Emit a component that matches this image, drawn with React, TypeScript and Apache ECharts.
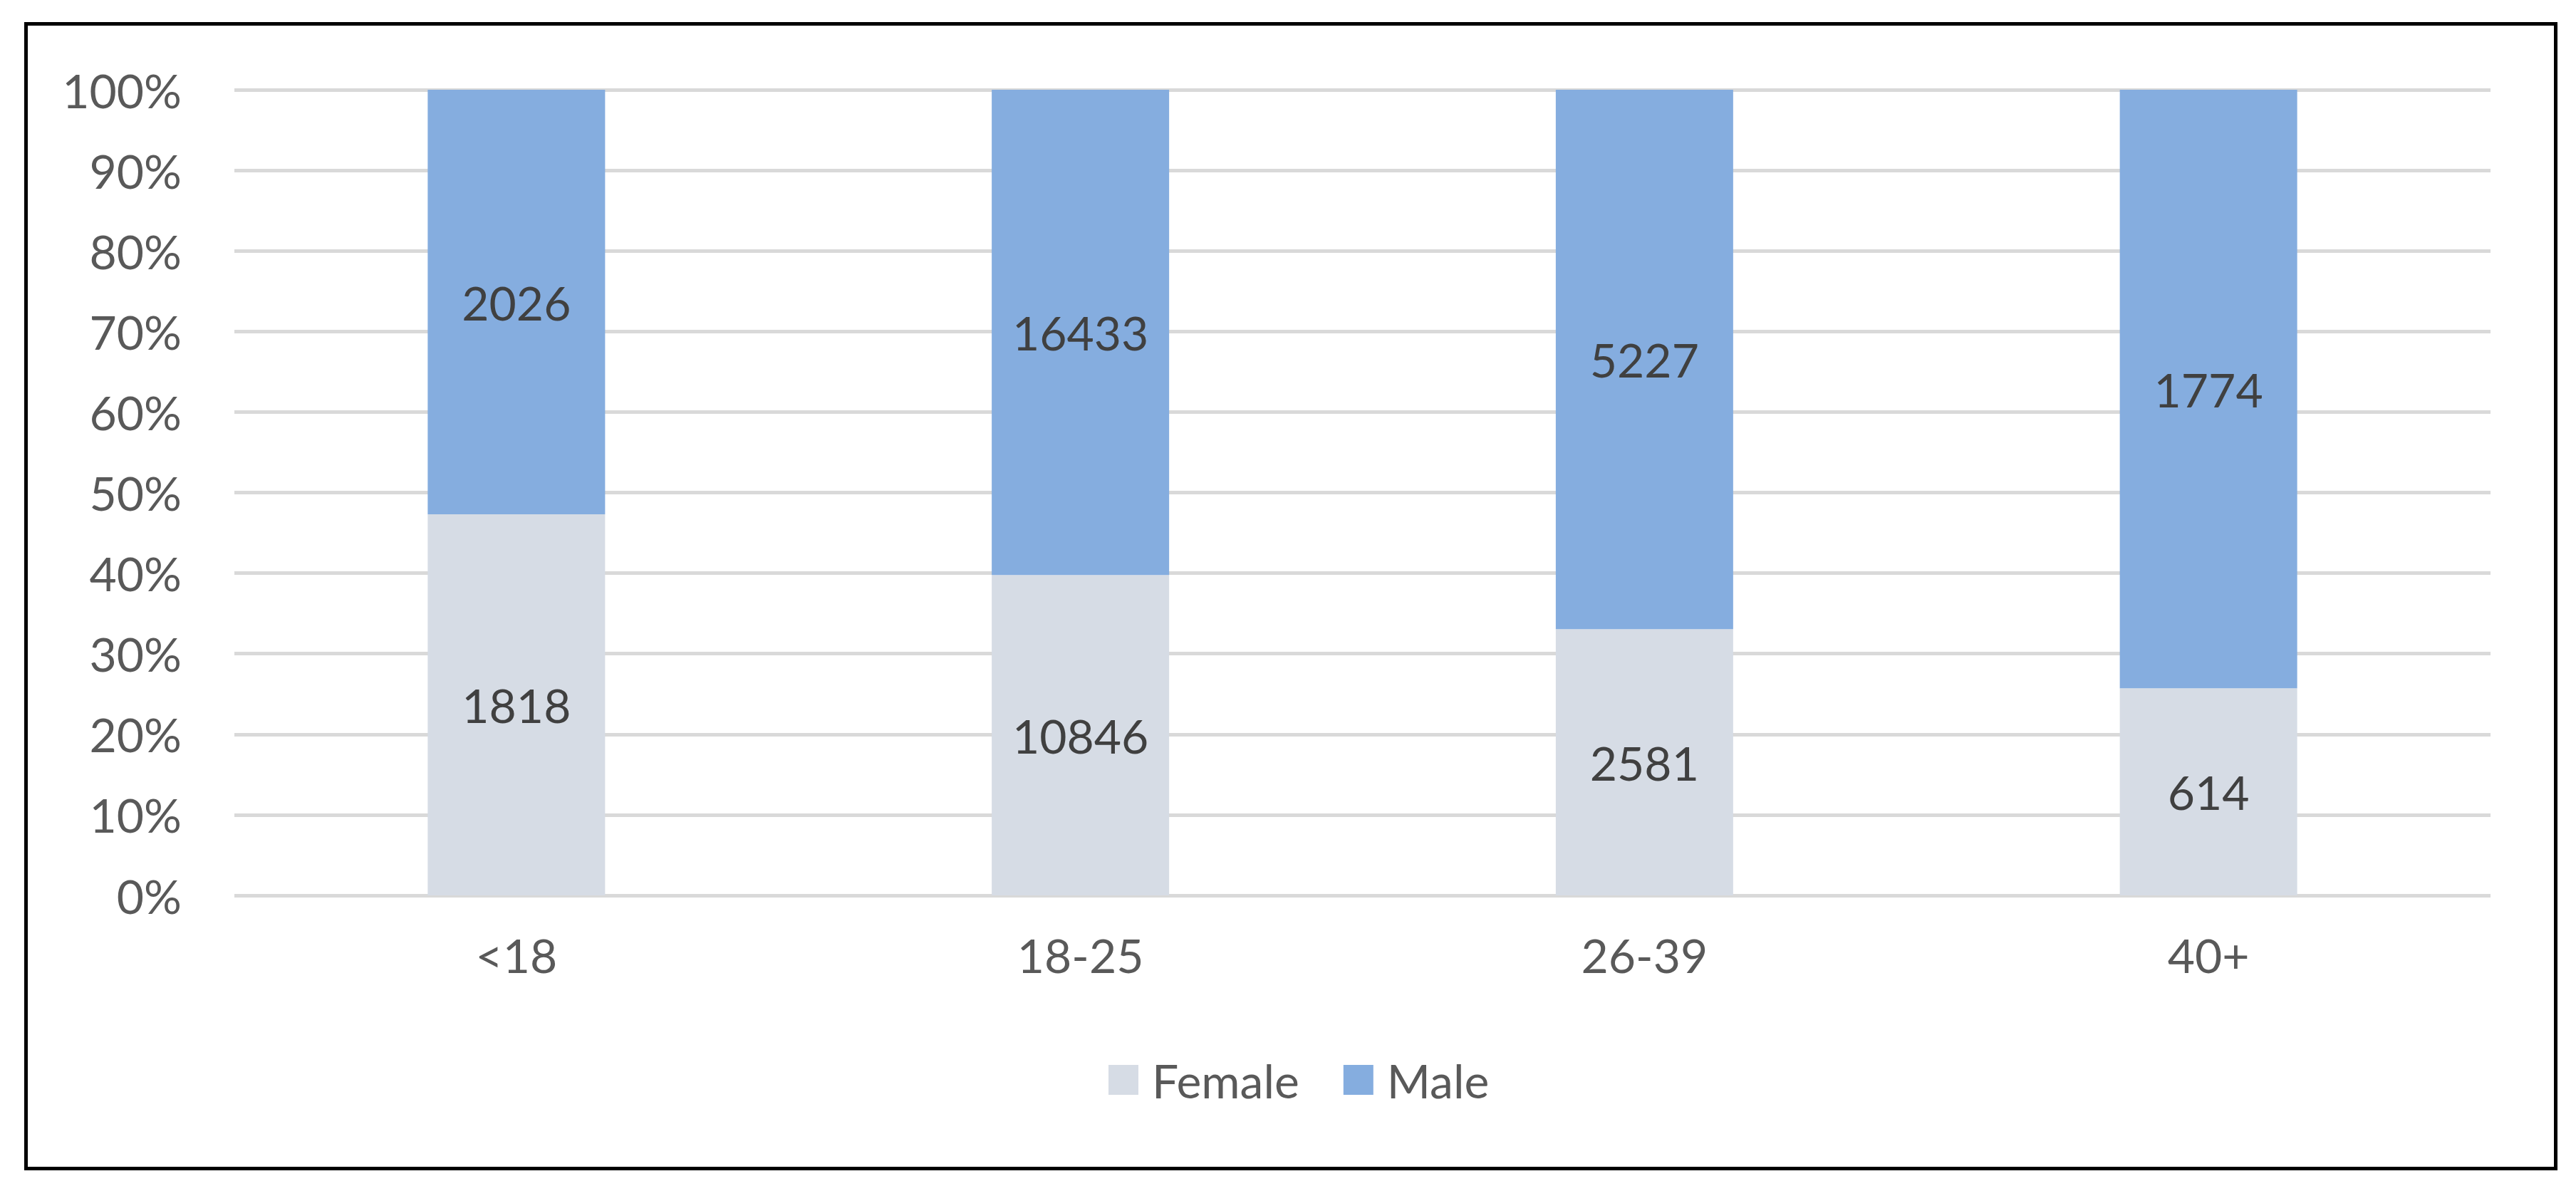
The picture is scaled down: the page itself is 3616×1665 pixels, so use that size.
import React, { useEffect, useRef } from "react";
import * as echarts from "echarts";

const categories = ["<18", "18-25", "26-39", "40+"];
const femaleCounts = [1818, 10846, 2581, 614];
const maleCounts = [2026, 16433, 5227, 1774];
const seriesNames = ["Female", "Male"];
const seriesColors = ["#d6dce5", "#85addf"];
const yMin = 0;
const yMax = 100;
const yInterval = 10;

const FONT = "Lato, 'Noto Sans', sans-serif";
const FS = 66;

export default function App() {
  const ref = useRef<HTMLDivElement>(null);
  useEffect(() => {
    if (!ref.current) return;
    const chart = echarts.init(ref.current, null, { renderer: "svg" });
    const totals = categories.map((_, i) => femaleCounts[i] + maleCounts[i]);
    const femalePct = femaleCounts.map((v, i) => (v / totals[i]) * 100);
    const malePct = maleCounts.map((v, i) => (v / totals[i]) * 100);
    const counts = [femaleCounts, maleCounts];
    const mkSeries = (idx: number, data: number[]) => ({
      name: seriesNames[idx],
      type: "bar",
      stack: "total",
      data,
      barWidth: 249,
      itemStyle: { color: seriesColors[idx] },
      label: {
        show: true,
        position: "inside",
        formatter: (p: any) => String(counts[idx][p.dataIndex]),
        color: "#404040",
        fontSize: FS,
        fontFamily: FONT,
      },
      emphasis: { disabled: true },
    });
    chart.setOption({
      animation: false,
      backgroundColor: "#ffffff",
      grid: { left: 329, right: 120, top: 126, bottom: 408, containLabel: false },
      legend: {
        data: seriesNames,
        left: 1551,
        top: 1478,
        itemWidth: 42,
        itemHeight: 42,
        itemGap: 62,
        icon: "rect",
        itemStyle: { borderWidth: 0 },
        textStyle: {
          color: "#595959",
          fontSize: FS,
          fontFamily: FONT,
          lineHeight: 66,
          padding: [0, 0, 0, 14],
        },
      },
      xAxis: {
        type: "category",
        data: categories,
        axisLine: { show: false },
        axisTick: { show: false },
        axisLabel: {
          color: "#595959",
          fontSize: FS,
          fontFamily: FONT,
          margin: 50,
        },
      },
      yAxis: {
        type: "value",
        min: yMin,
        max: yMax,
        interval: yInterval,
        axisLine: { show: false },
        axisTick: { show: false },
        splitLine: { lineStyle: { color: "#d9d9d9", width: 5 } },
        axisLabel: {
          color: "#595959",
          fontSize: FS,
          fontFamily: FONT,
          margin: 74,
          formatter: "{value}%",
        },
      },
      graphic: [
        {
          type: "rect",
          shape: { x: 36.5, y: 33.5, width: 3551, height: 1607 },
          style: { fill: "none", stroke: "#000000", lineWidth: 5 },
          silent: true,
          z: 100,
        },
      ],
      series: [mkSeries(0, femalePct), mkSeries(1, malePct)],
    });
    return () => chart.dispose();
  }, []);
  return (
    <div
      ref={ref}
      style={{ position: "absolute", left: 0, top: 0, width: 3616, height: 1665 }}
    />
  );
}
